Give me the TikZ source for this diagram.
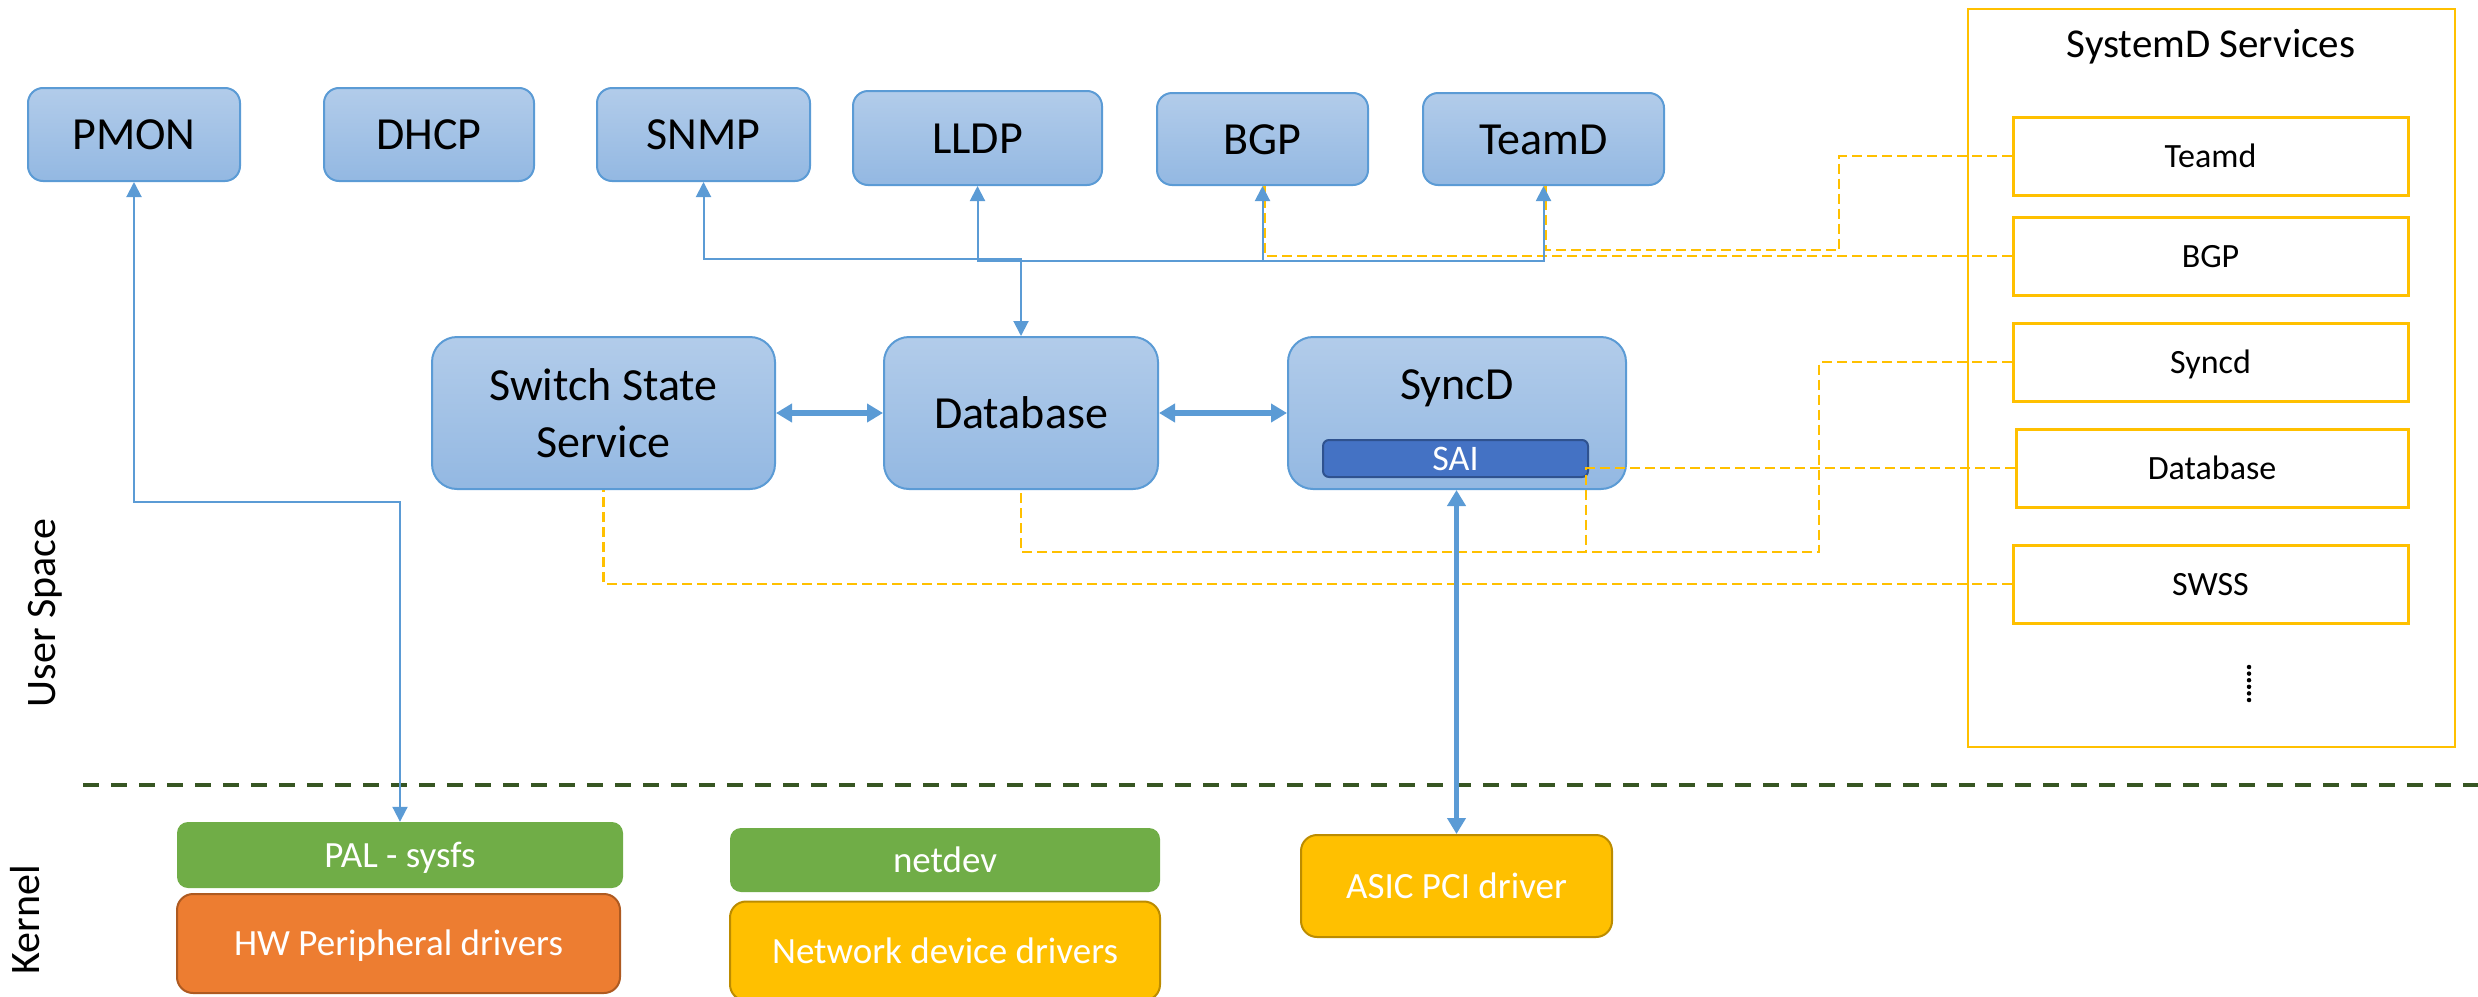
\documentclass[tikz,border=0pt]{standalone}
\usepackage{fontspec}
\setmainfont{Carlito}
\usetikzlibrary{arrows.meta,shadings}
\definecolor{bluetop}{HTML}{B2CCEA}
\definecolor{bluebot}{HTML}{93B8E2}
\definecolor{boxline}{HTML}{5B9BD5}
\definecolor{saifill}{HTML}{4472C4}
\definecolor{sailine}{HTML}{2F528F}
\definecolor{grn}{HTML}{70AD47}
\definecolor{org}{HTML}{ED7D31}
\definecolor{orgline}{HTML}{AE5A21}
\definecolor{yel}{HTML}{FFC000}
\definecolor{yelline}{HTML}{BC8C00}
\definecolor{sepgreen}{HTML}{375623}
\tikzset{
  bluebox/.style={draw=boxline, line width=2pt, rounded corners=#1, top color=bluetop, bottom color=bluebot, inner sep=0pt, font=\fontsize{46}{57}\selectfont, text=black},
  bluebox/.default=15pt,
  capmid/.style={text height=#1, text depth=0pt},
  saibox/.style={draw=sailine, line width=2pt, fill=saifill, rounded corners=6pt, inner sep=0pt, text=white, font=\fontsize{36}{43}\selectfont, capmid=23pt},
  kbox/.style={rounded corners=#1, inner sep=0pt, text=white, font=\fontsize{37}{44}\selectfont, capmid=24pt},
  greenbox/.style={kbox=11pt, fill=grn},
  orangebox/.style={kbox=16pt, fill=org, draw=orgline, line width=2pt},
  yellowbox/.style={kbox=16pt, fill=yel, draw=yelline, line width=2pt},
  sdbox/.style={draw=yel, line width=3pt, minimum width=395pt, minimum height=78pt, inner sep=0pt, font=\fontsize{34}{41}\selectfont, capmid=22pt},
  thinline/.style={draw=boxline, line width=2pt, >={Triangle[width=15pt,length=15pt]}},
  thickline/.style={draw=boxline, line width=5.5pt, >={Triangle[width=18pt,length=16pt]}},
  ordash/.style={draw=yel, line width=2.5pt, dash pattern=on 10pt off 5pt},
  sepline/.style={draw=sepgreen, line width=4pt, dash pattern=on 16pt off 12pt},
  sidelabel/.style={rotate=90, anchor=base, font=\fontsize{42}{50}\selectfont},
  dotcol/.style={line width=4.5pt, line cap=round, dash pattern=on 0pt off 6.6pt}
}
\begin{document}
\begin{tikzpicture}[x=1pt,y=-1pt]
\useasboundingbox (0,0) rectangle (2478,996);
\clip (0,0) rectangle (2478,996);

% top row
\node[bluebox, capmid=30pt, minimum width=212pt, minimum height=93pt] (pmon) at (134,134.5) {PMON};
\node[bluebox, capmid=30pt, minimum width=210pt, minimum height=93pt] (dhcp) at (429,134.5) {DHCP};
\node[bluebox, capmid=30pt, minimum width=213pt, minimum height=93pt] (snmp) at (703.5,134.5) {SNMP};
\node[bluebox, capmid=30pt, minimum width=249pt, minimum height=94pt] (lldp) at (977.5,138) {LLDP};
\node[bluebox, capmid=30pt, minimum width=211pt, minimum height=92pt] (bgp) at (1262.5,139) {BGP};
\node[bluebox, capmid=30pt, minimum width=241pt, minimum height=92pt] (teamd) at (1543.5,139) {TeamD};

% middle row
\node[bluebox=25pt, minimum width=343pt, minimum height=152pt, align=center] (sss) at (603.5,413) {Switch State\\Service};
\node[bluebox=25pt, capmid=30pt, minimum width=274pt, minimum height=152pt] (db) at (1021,413) {Database};
\node[bluebox=25pt, minimum width=338pt, minimum height=152pt] (syncd) at (1457,413) {};
\node[font=\fontsize{46}{57}\selectfont, capmid=30pt, inner sep=0pt] (syncdtext) at (1457,384) {SyncD};
\node[saibox, minimum width=265pt, minimum height=37pt] (sai) at (1455.5,458.5) {SAI};

% kernel
\node[greenbox, minimum width=446pt, minimum height=66pt] (pal) at (400,855) {PAL - sysfs};
\node[orangebox, minimum width=443pt, minimum height=99pt] (hw) at (398.5,943.5) {HW Peripheral drivers};
\node[greenbox, minimum width=430pt, minimum height=64pt] (netdev) at (945,860) {netdev};
\node[yellowbox, minimum width=430pt, minimum height=99pt] (ndd) at (945,951) {Network device drivers};
\node[yellowbox, minimum width=311pt, minimum height=102pt] (asic) at (1456.5,886) {ASIC PCI driver};

% systemd
\node[draw=yel, line width=2.5pt, minimum width=487pt, minimum height=738pt, inner sep=0pt] (sysd) at (2211.5,378) {};
\node[font=\fontsize{41}{49}\selectfont, anchor=base, inner sep=0pt] (sysdtitle) at (2211,57) {SystemD Services};
\node[sdbox] (steamd) at (2210.5,156) {Teamd};
\node[sdbox] (sbgp) at (2210.5,256) {BGP};
\node[sdbox] (ssyncd) at (2210.5,362) {Syncd};
\node[sdbox, minimum width=392pt] (sdb) at (2212,468) {Database};
\node[sdbox] (sswss) at (2210.5,584) {SWSS};
\coordinate (dotsTop) at (2249,667);
\coordinate (dotsBot) at (2249,701);
\draw[dotcol] (dotsTop) -- (dotsBot);

% side labels
\node[sidelabel] (userspace) at (55,613) {User Space};
\node[sidelabel] (kernel) at (39,920) {Kernel};
\coordinate (sepL) at (83,785);
\coordinate (sepR) at (2478,785);
\draw[sepline] (sepL) -- (sepR);

% orange dashed links
\coordinate (tdA) at (1839,156);
\coordinate (tdB) at (1839,250);
\draw[ordash] (steamd.west) -- (tdA) -- (tdB) -| ([xshift=2pt]teamd.south);
\draw[ordash] (sbgp.west) -| ([xshift=2pt]bgp.south);
\coordinate (syA) at (1819,362);
\coordinate (syB) at (1819,552);
\draw[ordash] (ssyncd.west) -- (syA) -- (syB) -| (db.south);
\coordinate (saiC) at (1586,552);
\draw[ordash] (sdb.west) -| (saiC);
\draw[ordash] (sswss.west) -| (sss.south);

% blue connectors
\coordinate (bus1) at (1021,259);
\coordinate (bus2) at (1021,261);
\draw[thinline,<->] (snmp.south) |- (bus1) -- (db.north);
\draw[thinline,->] (bus2) -| (lldp.south);
\draw[thinline,->] (bus2) -| (bgp.south);
\draw[thinline,->] (bus2) -| (teamd.south);
\coordinate (pmonbend) at (400,502);
\draw[thinline,<->] (pmon.south) |- (pmonbend) -- (pal.north);
\draw[thickline,<->] (sss.east) -- (db.west);
\draw[thickline,<->] (db.east) -- (syncd.west);
\draw[thickline,<->] (asic.north |- syncd.south) -- (asic.north);
\end{tikzpicture}
\end{document}
